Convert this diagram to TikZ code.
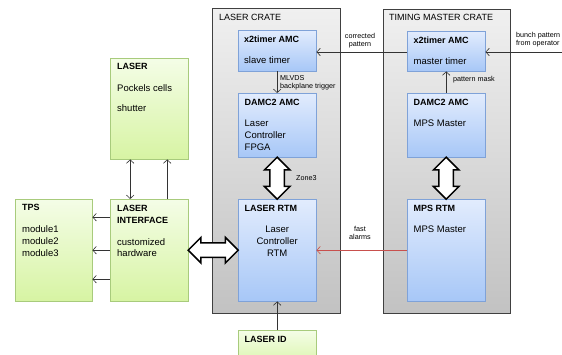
\documentclass[tikz,border=0pt]{standalone}
\usepackage{fontspec}
\setmainfont{Liberation Sans}
\usetikzlibrary{arrows.meta, positioning, calc, shapes.arrows, shadows}

\definecolor{bluetop}{HTML}{E2ECFD}
\definecolor{bluebot}{HTML}{A7C7F7}
\definecolor{blueline}{HTML}{7FA2D8}
\definecolor{greentop}{HTML}{F4FDE7}
\definecolor{greenbot}{HTML}{D7F4A3}
\definecolor{greenline}{HTML}{A8CB7C}
\definecolor{cratetop}{HTML}{F0F0F0}
\definecolor{cratebot}{HTML}{C2C2C2}
\definecolor{alarmred}{HTML}{C8504D}

\begin{document}
\begin{tikzpicture}[x=1pt, y=-1pt,
    >={Straight Barb[length=3.5pt, width=7.5pt]},
    crate/.style={draw=black!75, top color=cratetop, bottom color=cratebot,
      anchor=north west, inner sep=0pt},
    box/.style={anchor=north west, inner sep=0pt,
      drop shadow={shadow xshift=1pt, shadow yshift=-1pt, opacity=0.25}},
    amc/.style={box, draw=blueline, top color=bluetop, bottom color=bluebot},
    ext/.style={box, draw=greenline, top color=greentop, bottom color=greenbot},
    title/.style={anchor=base west, inner sep=0pt, align=left,
      font=\fontsize{9}{11.8}\selectfont\bfseries},
    body/.style={anchor=base west, inner sep=0pt, align=left,
      font=\fontsize{9.5}{11.8}\selectfont},
    cratename/.style={anchor=base west, inner sep=0pt, font=\fontsize{9}{11}\selectfont},
    small/.style={inner sep=0pt, font=\fontsize{7.2}{8}\selectfont},
    arr/.style={->, semithick, black!80},
    fatarrow/.style={double arrow, draw, line width=1.5pt, fill=white, inner sep=0pt,
      text height=6.5pt, text depth=6.5pt, double arrow head extend=5.5pt,
      double arrow head indent=0pt},
  ]
  \useasboundingbox (0,0) rectangle (562,355);
  \clip (0,0) rectangle (562,355);

  % crates
  \node[crate, minimum width=128pt, minimum height=305pt] (lcrate) at (212,8) {};
  \node[crate, minimum width=127pt, minimum height=304pt] (mcrate) at (383,9) {};
  \node[cratename] (lcrate-t) at ($(lcrate.north west)+(7,12.7)$) {LASER CRATE};
  \node[cratename] (mcrate-t) at ($(mcrate.north west)+(6,11.7)$) {TIMING MASTER CRATE};

  % boards in the laser crate
  \node[amc, minimum width=78pt, minimum height=41pt] (ltimer) at (238,30) {};
  \node[amc, minimum width=78pt, minimum height=64pt] (lfpga) at (238,93) {};
  \node[amc, minimum width=78pt, minimum height=102pt] (lrtm) at (238,199) {};

  % boards in the timing master crate
  \node[amc, minimum width=78pt, minimum height=40pt] (mtimer) at (407,31) {};
  \node[amc, minimum width=78pt, minimum height=64pt] (mfpga) at (407,93) {};
  \node[amc, minimum width=78pt, minimum height=102pt] (mrtm) at (407,199) {};

  % outside hardware
  \node[ext, minimum width=78pt, minimum height=101pt] (laser) at (110,58) {};
  \node[ext, minimum width=77pt, minimum height=102pt] (tps) at (15,199) {};
  \node[ext, minimum width=78pt, minimum height=102pt] (iface) at (110,199) {};
  \node[ext, minimum width=78pt, minimum height=40pt] (lid) at (238,330) {};

  % texts (base = last line)
  \node[title] (ltimer-t) at ($(ltimer.north west)+(6,12.5)$) {x2timer AMC};
  \node[body] (ltimer-b) at ($(ltimer.north west)+(6,33.7)$) {slave timer};
  \node[title] (lfpga-t) at ($(lfpga.north west)+(6.5,12.5)$) {DAMC2 AMC};
  \node[body] (lfpga-b) at ($(lfpga.north west)+(6.5,57.5)$) {Laser\\Controller\\FPGA};
  \node[title] (lrtm-t) at ($(lrtm.north west)+(6.5,12.5)$) {LASER RTM};
  \node[body, anchor=base, align=center] (lrtm-b) at ($(lrtm.north)+(0,57.3)$) {Laser\\Controller\\RTM};
  \node[title] (mtimer-t) at ($(mtimer.north west)+(6.5,12.5)$) {x2timer AMC};
  \node[body] (mtimer-b) at ($(mtimer.north west)+(6.5,33.7)$) {master timer};
  \node[title] (mfpga-t) at ($(mfpga.north west)+(6.5,12.5)$) {DAMC2 AMC};
  \node[body] (mfpga-b) at ($(mfpga.north west)+(6.5,34)$) {MPS Master};
  \node[title] (mrtm-t) at ($(mrtm.north west)+(6.5,12.5)$) {MPS RTM};
  \node[body] (mrtm-b) at ($(mrtm.north west)+(6.5,33.7)$) {MPS Master};
  \node[title] (laser-t) at ($(laser.north west)+(7,12)$) {LASER};
  \node[body] (laser-b) at ($(laser.north west)+(7,54)$) {Pockels cells\\[8.2pt]shutter};
  \node[title] (tps-t) at ($(tps.north west)+(7,11.7)$) {TPS};
  \node[body] (tps-b) at ($(tps.north west)+(7,57.5)$) {module1\\module2\\module3};
  \node[title] (iface-t) at ($(iface.north west)+(7,24.3)$) {LASER\\INTERFACE};
  \node[body] (iface-b) at ($(iface.north west)+(7,58)$) {customized\\hardware};
  \node[title] (lid-t) at ($(lid.north west)+(6.5,12.5)$) {LASER ID};

  % thin connectors
  \coordinate (operator) at (562,52);
  \draw[arr] (operator) -- (operator -| mtimer.east);
  \draw[arr] (mtimer.west |- operator) -- (ltimer.east |- operator);
  \draw[arr] (mfpga) -- (mtimer);
  \draw[arr] (ltimer) -- (lfpga);
  \draw[arr, alarmred] (mrtm) -- (lrtm);
  \draw[arr] (lid) -- (lrtm);
  \draw[arr] ([yshift=33pt]iface.west) -- ([yshift=33pt]iface.west -| tps.east);
  \draw[arr] (iface) -- (tps);
  \draw[arr] ([yshift=-29pt]iface.west) -- ([yshift=-29pt]iface.west -| tps.east);
  \draw[arr, <->] ([xshift=-19pt]iface.north) -- ([xshift=-19pt]laser.south);
  \draw[arr] ([xshift=18pt]iface.north) -- ([xshift=18pt]laser.south);

  % wide links
  \node[fatarrow, minimum height=50pt] (link) at ($(iface.east)!0.5!(lrtm.west)$) {};
  \node[fatarrow, minimum height=42pt, rotate=90] (zone) at ($(lfpga.south)!0.5!(lrtm.north)$) {};
  \node[fatarrow, minimum height=42pt, rotate=90] (mzone) at ($(mfpga.south)!0.5!(mrtm.north)$) {};

  % connector labels
  \node[small, anchor=base, align=center] (cp) at (360,46.5) {corrected\\pattern};
  \node[small, anchor=base west, align=left] (bp) at (516,45.7) {bunch pattern\\from operator};
  \node[small, anchor=base west] (pm) at (453,82) {pattern mask};
  \node[small, anchor=base west, align=left] (ml) at (280,88.5) {MLVDS\\backplane trigger};
  \node[small, anchor=base west] (z3) at (296,181) {Zone3};
  \node[small, anchor=base, align=center] (fa) at (360,240) {fast\\alarms};
\end{tikzpicture}
\end{document}
